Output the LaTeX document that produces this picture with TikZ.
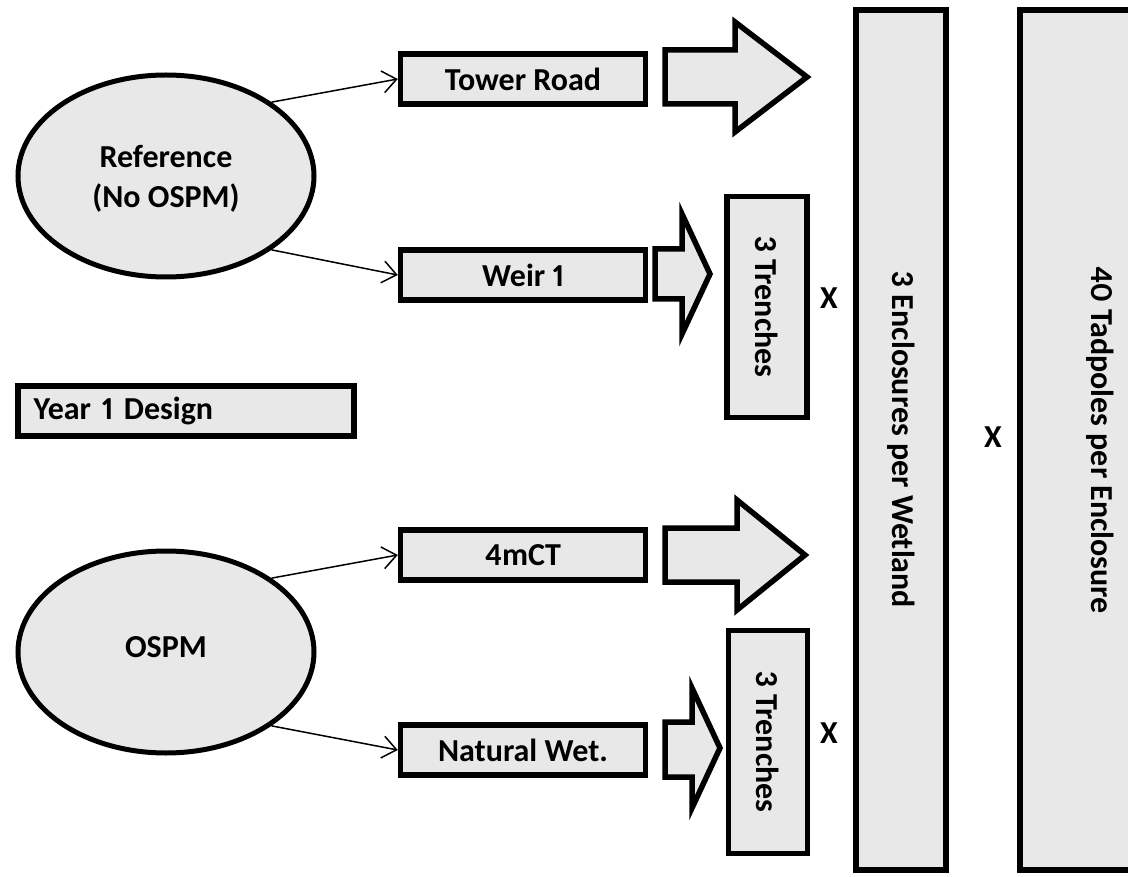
\documentclass[tikz,border=0pt]{standalone}
\usepackage{fontspec}
\setmainfont{Carlito}[Numbers=Proportional]
\usetikzlibrary{shapes.geometric,arrows.meta}
\definecolor{boxgray}{RGB}{232,232,232}
\tikzset{
  box/.style={draw, line width=5.5pt, fill=boxgray, inner sep=0pt,
    minimum width=245pt, minimum height=50pt, font=\fontsize{32}{38}\selectfont\bfseries},
  tallbox/.style={box, rotate=-90},
  oval/.style={draw, ellipse, line width=5pt, fill=boxgray, inner sep=0pt,
    minimum width=296pt, minimum height=202pt, align=center,
    font=\fontsize{32}{40}\selectfont\bfseries},
  conn/.style={line width=1.5pt, -{Straight Barb[length=14pt,width=22pt,line width=1.5pt]}},
  blockarrow/.style={draw, line width=5.5pt, fill=boxgray, line join=miter},
  cross/.style={font=\fontsize{32}{38}\selectfont\bfseries}
}
\begin{document}
\begin{tikzpicture}[x=1pt,y=-1pt]
\useasboundingbox (0,0) rectangle (1128,877);
%\draw[help lines] (0,0) grid[step=50] (1128,877);
\node[oval] (ref) at (166,176) {\\[-12pt]Reference\\(No OSPM)};
\node[oval] (ospm) at (166,652) {OSPM\\[-30pt]};
\node[box] (tower) at (523,79) {Tower Road};
\node[box] (weir) at (523,275) {Weir 1};
\node[box] (fourm) at (523,555) {4mCT};
\node[box] (natwet) at (523,750) {Natural Wet.};
\node[box, anchor=west, minimum width=336pt, text width=304pt, inner xsep=16pt, align=left] (year) at (15,411) {Year 1 Design};
\draw[conn] (ref.35) -- (tower.west);
\draw[conn] (ref.-35) -- (weir.west);
\draw[conn] (ospm.35) -- (fourm.west);
\draw[conn] (ospm.-35) -- (natwet.west);
% block arrows
\draw[blockarrow] (665,50) -- (735,50) -- (735,22) -- (807,77) -- (735,132) -- (735,104) -- (665,104) -- cycle;
\draw[blockarrow] (655,249) -- (682,249) -- (682,214) -- (710,274) -- (682,334) -- (682,299) -- (655,299) -- cycle;
\draw[blockarrow] (665,528) -- (737,528) -- (737,500) -- (805,555) -- (737,610) -- (737,582) -- (665,582) -- cycle;
\draw[blockarrow] (665,722) -- (692,722) -- (692,688) -- (720,748) -- (692,808) -- (692,777) -- (665,777) -- cycle;
\node[tallbox, minimum width=221pt, minimum height=80pt] (trench1) at (767,307) {3 Trenches};
\node[tallbox, minimum width=223pt, minimum height=79pt] (trench2) at (768,742) {3 Trenches};
\node[tallbox, minimum width=860pt, minimum height=90pt] (encl) at (901,440) {3 Enclosures per Wetland};
\node[tallbox, minimum width=860pt, minimum height=160pt] (tad) at (1100,440) {40 Tadpoles per Enclosure};
\node[cross] (x1) at (829,298) {X};
\node[cross] (x2) at (829,733) {X};
\node[cross] (x3) at (993,437) {X};
\end{tikzpicture}
\end{document}
